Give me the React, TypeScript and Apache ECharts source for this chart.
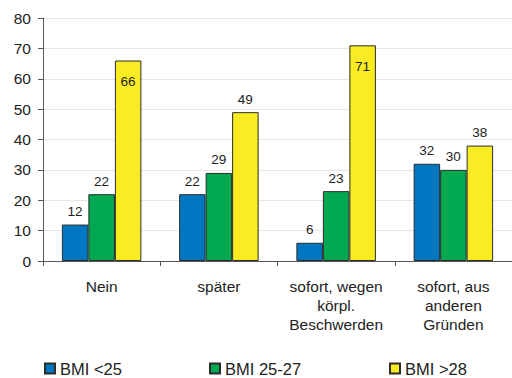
import React, { useEffect, useRef } from "react";
import * as echarts from "echarts";

const categories = ["Nein", "später", "sofort, wegen\nkörpl.\nBeschwerden", "sofort, aus\nanderen\nGründen"];
const seriesNames = ["BMI <25", "BMI 25-27", "BMI >28"];
const bmiUnder25 = [12, 22, 6, 32];
const bmi25to27 = [22, 29, 23, 30];
const bmiOver28 = [66, 49, 71, 38];
const colors = ["#0077c1", "#00a84f", "#f9ec23"];

export default function App() {
  const ref = useRef<HTMLDivElement>(null);
  useEffect(() => {
    if (!ref.current) return;
    const chart = echarts.init(ref.current, undefined, { renderer: "svg" });
    const values = [bmiUnder25, bmi25to27, bmiOver28];
    const legendX = [44, 209, 389];
    chart.setOption({
      animation: false,
      textStyle: { fontFamily: "Liberation Sans, Arial, sans-serif" },
      grid: { left: 43, top: 18, width: 476, height: 243, containLabel: false },
      legend: seriesNames.map((n, i) => ({
        data: [n],
        left: legendX[i],
        top: 360,
        itemWidth: 10,
        itemHeight: 10,
        itemGap: 5,
        icon: "rect",
        textStyle: { fontSize: 16.5, color: "#222", padding: [0, 0, 0, 0] },
        padding: 0,
      })),
      xAxis: {
        type: "category",
        data: categories,
        axisLine: { lineStyle: { color: "#555", width: 1 } },
        axisTick: { show: true, length: 5, alignWithLabel: false, lineStyle: { color: "#555" } },
        axisLabel: { fontSize: 15.5, color: "#222", lineHeight: 19, margin: 16, interval: 0 },
      },
      yAxis: {
        type: "value",
        min: 0,
        max: 80,
        interval: 10,
        axisLine: { show: true, lineStyle: { color: "#555", width: 1 } },
        axisTick: { show: true, length: 5, lineStyle: { color: "#555" } },
        axisLabel: { fontSize: 15.5, color: "#222", margin: 12 },
        splitLine: { show: true, lineStyle: { color: "#e6e6e6", width: 1 } },
      },
      series: seriesNames.map((n, i) => ({
        name: n,
        type: "bar",
        data: values[i].map((v) =>
          i === 2 && v > 60
            ? { value: v, label: { position: "insideTop", distance: 14 } }
            : v
        ),
        barWidth: 26.5,
        barGap: "0%",
        itemStyle: { color: colors[i], borderColor: "#2b2b2b", borderWidth: 1 },
        label: { show: true, position: "top", fontSize: 13.5, color: "#222", distance: 6 },
      })),
    });
    return () => chart.dispose();
  }, []);
  return <div ref={ref} style={{ width: 512, height: 378, position: "absolute", left: 0, top: 0 }} />;
}
